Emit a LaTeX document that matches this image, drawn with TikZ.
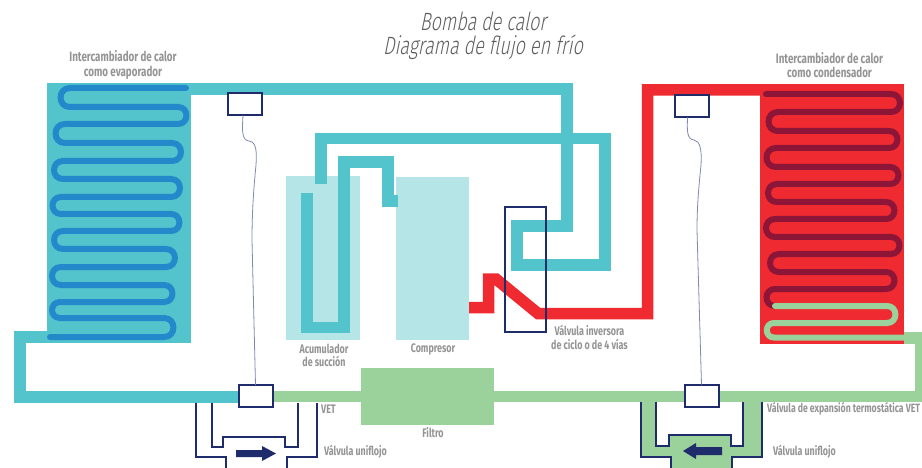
\documentclass[tikz,border=0pt]{standalone}
\usepackage{fontspec}
\newfontfamily\din[FakeStretch=0.72]{Fira Sans}
\newfontfamily\dintitle[FakeStretch=0.72,FakeSlant=0.2]{Fira Sans Light}
\definecolor{cyanpipe}{HTML}{53C4CB}
\definecolor{paleacc}{HTML}{B5E5E7}
\definecolor{bluecoil}{HTML}{2389CB}
\definecolor{redpipe}{HTML}{EF2A30}
\definecolor{darkcoil}{HTML}{8C1538}
\definecolor{greenpipe}{HTML}{9BD19A}
\definecolor{navyline}{HTML}{1F2C6B}
\definecolor{capline}{HTML}{8088B0}
\definecolor{labelgrey}{HTML}{949494}
\definecolor{titlegrey}{HTML}{5E5E5E}
\tikzset{
  pipe/.style={line width=11.5pt,miter limit=10},
  coil/.style={line width=6pt,line cap=round},
  UR/.style={out=0,in=0,looseness=1.7},
  UL/.style={out=180,in=180,looseness=1.7},
  valvebox/.style={draw=navyline,line width=2pt,fill=white,inner sep=0pt,outer sep=0pt,minimum width=34pt,minimum height=22pt},
  uni/.style={draw=navyline,line width=1.6pt},
  capillary/.style={draw=capline,line width=0.8pt},
  lbl/.style={text=labelgrey,font=\din\bfseries\fontsize{12.4}{13.5}\selectfont,align=center,inner sep=0pt},
  lbltop/.style={lbl,font=\din\bfseries\fontsize{13.6}{14.5}\selectfont},
  lbll/.style={lbl,anchor=west},
  lblsmall/.style={lbll,font=\din\bfseries\fontsize{12.1}{13.5}\selectfont},
  ttl/.style={text=titlegrey,align=center,font=\dintitle\fontsize{25}{24}\selectfont,inner sep=0pt}
}
\begin{document}
\begin{tikzpicture}[x=1pt,y=-1pt]
\useasboundingbox (0,0) rectangle (922,468);
\clip (0,0) rectangle (922,468);
\fill[white] (0,0) rectangle (922,468);
% large blocks
\fill[paleacc] (286,176) rectangle (360,340);
\fill[paleacc] (396,177) rectangle (469,340);
\fill[cyanpipe] (47,83) rectangle (191,343);
\fill[redpipe] (760,84) rectangle (904,344);
\fill[greenpipe] (361,368) rectangle (494,425);
% pipes
\draw[pipe,cyanpipe] (321,184) -- (321,138.5) -- (605,138.5) -- (605,265) -- (517,265) -- (517,226) -- (567,226) -- (567,89) -- (185,89);
\draw[pipe,cyanpipe] (307,193) -- (307,327.5) -- (344,327.5) -- (344,162) -- (388,162) -- (388,201) -- (398,201);
\draw[pipe,cyanpipe] (50,337) -- (20,337) -- (20,397) -- (245,397);
\draw[pipe,greenpipe] (265,396.5) -- (921,396.5) -- (921,338) -- (904,338);
\draw[pipe,redpipe] (469,307.5) -- (488.5,307.5) -- (488.5,279) -- (496,279) -- (538,313.5) -- (647.5,313.5) -- (647.5,90) -- (765,90);
% evaporator coil
\draw[coil,bluecoil] (186,88) -- (70,88) to[UL] (70,107) -- (178,107) to[UR] (178,124) -- (65,124) to[UL] (65,143) -- (172,143) to[UR] (172,161) -- (63,161) to[UL] (63,179) -- (171,179) to[UR] (171,197) -- (61,197) to[UL] (61,214) -- (171,214) to[UR] (171,231) -- (63,231) to[UL] (63,249) -- (166,249) to[UR] (166,267) -- (61,267) to[UL] (61,285) -- (164,285) to[UR] (164,302) -- (60,302) to[UL] (60,318) -- (164,318) to[UR] (164,337) -- (50,337);
% condenser coil
\draw[coil,darkcoil] (766,94) -- (891,94) to[UR] (891,112) -- (778,112) to[UL] (778,131) -- (889,131) to[UR] (889,148) -- (776,148) to[UL] (776,167) -- (890,167) to[UR] (890,184) -- (777,184) to[UL] (777,202) -- (886,202) to[UR] (886,219) -- (775,219) to[UL] (775,237) -- (891,237) to[UR] (891,254) -- (779,254) to[UL] (779,272) -- (886,272) to[UR] (886,289) -- (775,289) to[UL] (775,306);
\draw[coil,greenpipe] (775,306) -- (887,306) to[UR] (887,323) -- (774,323) to[UL] (774,337.5) -- (904,337.5);
% uniflow valves
\fill[greenpipe] (641,402) -- (641,457) -- (671,457) -- (671,468) -- (732,468) -- (732,457) -- (762,457) -- (762,402) -- cycle;
\fill[white] (656,402) -- (656,446) -- (669,446) -- (669,435) -- (731,435) -- (731,446) -- (743,446) -- (743,402) -- cycle;
\draw[uni] (196,403) -- (196,457) -- (226,457) -- (226,470);
\draw[uni] (212,403) -- (212,447) -- (223,447) -- (223,437) -- (285,437) -- (285,447) -- (298,447) -- (298,403);
\draw[uni] (317,403) -- (317,457) -- (287,457) -- (287,470);
\draw[uni] (641,402) -- (641,457) -- (671,457) -- (671,470);
\draw[uni] (656,402) -- (656,446) -- (669,446) -- (669,435) -- (731,435) -- (731,446) -- (743,446) -- (743,402);
\draw[uni] (762,402) -- (762,457) -- (732,457) -- (732,470);
\fill[navyline] (236,450) -- (262,450) -- (262,446) -- (276,453.5) -- (262,461) -- (262,457) -- (236,457) -- cycle;
\fill[navyline] (722,447) -- (696,447) -- (696,443) -- (683,451) -- (696,459) -- (696,455) -- (722,455) -- cycle;
% four-way valve
\node[draw=navyline,line width=1.5pt,inner sep=0pt,outer sep=0pt,minimum width=41pt,minimum height=125pt] (fourway) at (525.5,269.5) {};
% thermostatic valves
\node[valvebox] (vtl) at (245,104.5) {};
\node[valvebox] (vbl) at (255.5,396) {};
\node[valvebox] (vtr) at (691.5,106.5) {};
\node[valvebox] (vbr) at (701.5,395.5) {};
\draw[capillary] (vtl.south) ++(-2,0) coordinate (cl) (cl) .. controls (242,132) and (242,140) .. (249,141) .. controls (256,142) and (257,150) .. (256,165) .. controls (254,185) and (252,210) .. (252,240) -- (vbl.north);
\draw[capillary] (vtr.south) ++(-4,0) coordinate (cr) (cr) .. controls (687,132) and (687,139) .. (694,140) .. controls (700,141) and (702,150) .. (701,165) .. controls (699,185) and (697,205) .. (697,230) -- (vbr.north);
% labels
\node[ttl] (title) at (483,36) {Bomba de calor\\Diagrama de flujo en frío};
\node[lbltop] (evap) at (123,65) {Intercambiador de calor\\como evaporador};
\node[lbltop] (cond) at (829.5,65) {Intercambiador de calor\\como condensador};
\node[lbl] (acum) at (324,355.5) {Acumulador\\de succión};
\node[lbl] (comp) at (433,349) {Compresor};
\node[lbl] (vinv) at (589.5,337.5) {Válvula inversora\\de ciclo o de 4 vías};
\node[lbll] (vet) at (321,409) {VET};
\node[lbl] (filt) at (433,433) {Filtro};
\node[lbll] (uni1) at (324,452) {Válvula uniflojo};
\node[lbll] (uni2) at (773,452) {Válvula uniflojo};
\node[lblsmall] (vexp) at (767,409) {Válvula de expansión termostática VET};
\end{tikzpicture}
\end{document}
